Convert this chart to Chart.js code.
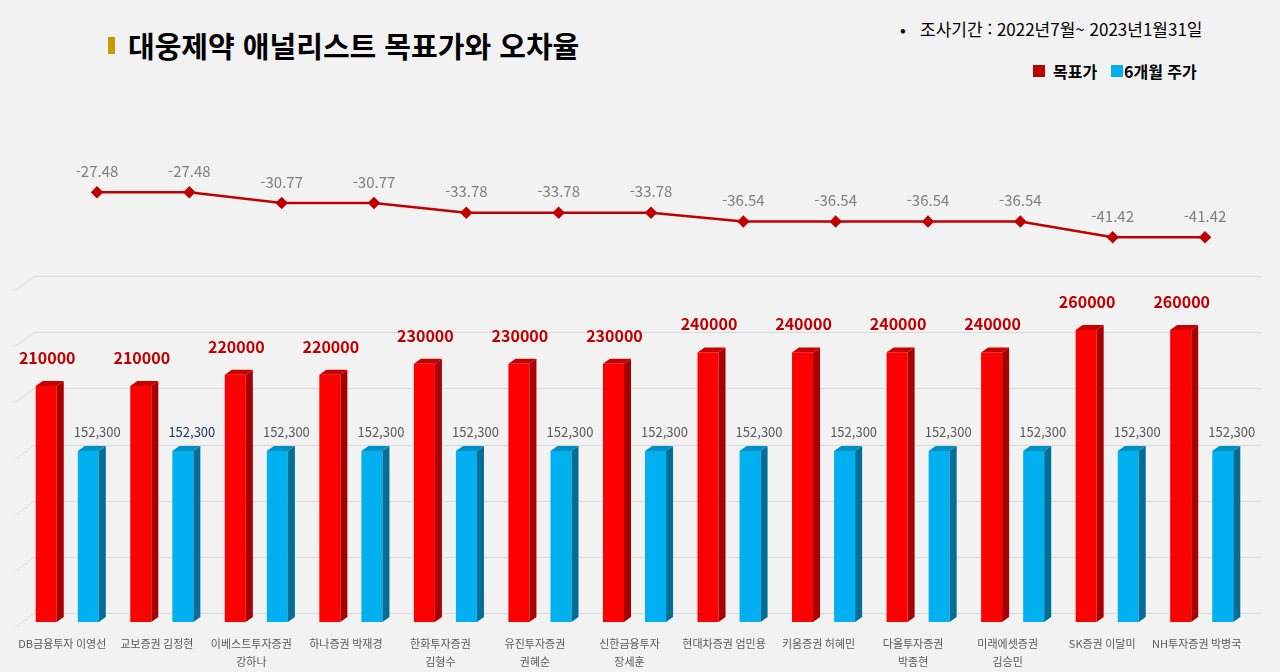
<!DOCTYPE html>
<html lang="ko">
<head>
<meta charset="utf-8">
<script src="https://cdn.jsdelivr.net/npm/chart.js@4/dist/chart.umd.min.js"></script>
<style>
  body { margin: 0; background: #f2f2f2; width: 1280px; height: 672px; overflow: hidden; position: relative;
         font-family: "Noto Sans CJK KR", "Noto Sans", sans-serif; }
  .abs { position: absolute; }
  #titleMark { left: 108px; top: 37px; width: 7px; height: 17px; background: #c89a00; }
  #title { left: 128px; top: 24px; font-size: 29px; font-weight: bold; color: #000; white-space: nowrap; }
  #period { left: 900px; top: 16px; font-size: 17px; color: #000; white-space: nowrap; }
  .sq { width: 12px; height: 12px; }
  .lg { font-size: 16px; font-weight: bold; color: #000; white-space: nowrap; top: 59px; }
  canvas { position: absolute; left: 0; }
</style>
</head>
<body>
<div id="titleMark" class="abs"></div>
<div id="title" class="abs">대웅제약 애널리스트 목표가와 오차율</div>
<div id="period" class="abs">•&nbsp;&nbsp;&nbsp;조사기간 : 2022년7월~ 2023년1월31일</div>
<div class="abs sq" style="left:1033px; top:65px; background:#c00000;"></div>
<div class="abs lg" style="left:1053px;">목표가</div>
<div class="abs sq" style="left:1111px; top:65px; background:#00b0f0;"></div>
<div class="abs lg" style="left:1124px;">6개월 주가</div>

<canvas id="lineChart" width="1280" height="170" style="top:100px;"></canvas>
<canvas id="barChart" width="1280" height="402" style="top:270px;"></canvas>

<script>
// data
var analysts = [
  'DB금융투자 이영선', '교보증권 김정현', ['이베스트투자증권', '강하나'], '하나증권 박재경',
  ['한화투자증권', '김형수'], ['유진투자증권', '권혜순'], ['신한금융투자', '장세훈'], '현대차증권 엄민용',
  '키움증권 허혜민', ['다올투자증권', '박종현'], ['미래에셋증권', '김승민'], 'SK증권 이달미', 'NH투자증권 박병국'
];
var targetPrice = [210000, 210000, 220000, 220000, 230000, 230000, 230000, 240000, 240000, 240000, 240000, 260000, 260000];
var price6m = [152300, 152300, 152300, 152300, 152300, 152300, 152300, 152300, 152300, 152300, 152300, 152300, 152300];
var errorRate = [-27.48, -27.48, -30.77, -30.77, -33.78, -33.78, -33.78, -36.54, -36.54, -36.54, -36.54, -41.42, -41.42];

var FONT = '"Noto Sans CJK KR", "Noto Sans", sans-serif';

// 3D look for the bars: side and top faces
var bar3d = {
  id: 'bar3d',
  beforeDatasetsDraw: function(chart) {
    var ctx = chart.ctx, y = chart.scales.y, area = chart.chartArea;
    ctx.save();
    ctx.strokeStyle = '#d9dae0';
    ctx.lineWidth = 1;
    for (var v = y.min; v <= y.max; v += 50000) {
      var py = Math.round(y.getPixelForValue(v)) + 0.5;
      ctx.beginPath();
      ctx.moveTo(area.left - 5, py + 5);
      ctx.lineTo(area.left + 14, py - 9);
      ctx.lineTo(area.right + 13, py - 9);
      ctx.stroke();
    }
    ctx.restore();
  },
  afterDatasetsDraw: function(chart) {
    var ctx = chart.ctx, dx = 7, dy = 5;
    ctx.save();
    chart.data.datasets.forEach(function(ds, i) {
      chart.getDatasetMeta(i).data.forEach(function(bar) {
        var l = bar.x - bar.width / 2, r = bar.x + bar.width / 2;
        ctx.fillStyle = ds.sideColor;
        ctx.beginPath();
        ctx.moveTo(r, bar.y); ctx.lineTo(r + dx, bar.y - dy);
        ctx.lineTo(r + dx, bar.base - dy); ctx.lineTo(r, bar.base);
        ctx.closePath(); ctx.fill();
        ctx.fillStyle = ds.topColor;
        ctx.beginPath();
        ctx.moveTo(l, bar.y); ctx.lineTo(l + dx, bar.y - dy);
        ctx.lineTo(r + dx, bar.y - dy); ctx.lineTo(r, bar.y);
        ctx.closePath(); ctx.fill();
      });
    });
    // value labels
    ctx.textAlign = 'center';
    ctx.textBaseline = 'middle';
    chart.getDatasetMeta(0).data.forEach(function(bar, j) {
      ctx.font = 'bold 16px ' + FONT;
      ctx.fillStyle = '#c00000';
      ctx.fillText(String(targetPrice[j]), bar.x + 1, bar.y - 28);
    });
    chart.getDatasetMeta(1).data.forEach(function(bar, j) {
      ctx.font = '13px ' + FONT;
      ctx.fillStyle = j === 1 ? '#203864' : '#595959';
      ctx.fillText(price6m[j].toLocaleString('en-US'), bar.x + 9, bar.y - 19);
    });
    ctx.restore();
  }
};

var lineLabels = {
  id: 'lineLabels',
  afterDatasetsDraw: function(chart) {
    var ctx = chart.ctx;
    ctx.save();
    ctx.font = '15px ' + FONT;
    ctx.fillStyle = '#7f7f7f';
    ctx.textAlign = 'center';
    ctx.textBaseline = 'middle';
    chart.getDatasetMeta(0).data.forEach(function(pt, j) {
      ctx.fillText(errorRate[j].toFixed(2), pt.x, pt.y - 21);
    });
    ctx.restore();
  }
};

new Chart(document.getElementById('lineChart').getContext('2d'), {
  type: 'line',
  data: {
    labels: analysts,
    datasets: [{
      label: '오차율',
      data: errorRate,
      borderColor: '#c00000',
      borderWidth: 2.5,
      pointStyle: 'rectRot',
      pointRadius: 4.5,
      pointBackgroundColor: '#c00000',
      pointBorderColor: '#c00000',
      tension: 0,
      clip: false
    }]
  },
  options: {
    responsive: false,
    animation: false,
    events: [],
    devicePixelRatio: 1,
    layout: { padding: { left: 97, right: 75, top: 0, bottom: 0 } },
    plugins: { legend: { display: false }, tooltip: { enabled: false } },
    scales: {
      x: { display: false },
      y: { display: false, min: -49.4, max: -1 }
    }
  },
  plugins: [lineLabels]
});

new Chart(document.getElementById('barChart').getContext('2d'), {
  type: 'bar',
  data: {
    labels: analysts,
    datasets: [{
      label: '목표가',
      data: targetPrice,
      backgroundColor: '#ff0000',
      sideColor: '#a80000',
      topColor: '#c80000',
      barPercentage: 0.5,
      categoryPercentage: 0.89
    }, {
      label: '6개월 주가',
      data: price6m,
      backgroundColor: '#00b0f0',
      sideColor: '#006f98',
      topColor: '#0090c4',
      barPercentage: 0.5,
      categoryPercentage: 0.89
    }]
  },
  options: {
    responsive: false,
    animation: false,
    events: [],
    devicePixelRatio: 1,
    layout: { padding: { left: 20, right: 31, top: 15, bottom: 0 } },
    plugins: { legend: { display: false }, tooltip: { enabled: false } },
    scales: {
      x: {
        grid: { display: false },
        border: { display: false },
        ticks: {
          color: '#595959',
          font: { family: FONT, size: 11, lineHeight: 1.7 },
          padding: 4,
          labelOffset: -5,
          maxRotation: 0,
          autoSkip: false
        },
        afterFit: function(scale) { scale.height = 50; }
      },
      y: { display: false, min: 0, max: 300000 }
    }
  },
  plugins: [bar3d]
});
</script>
</body>
</html>
